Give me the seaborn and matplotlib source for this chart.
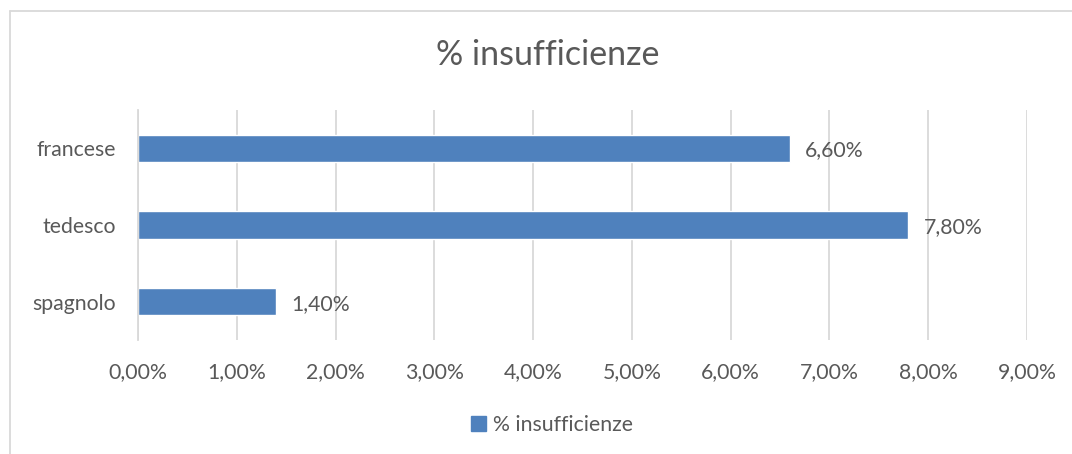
import matplotlib
matplotlib.use("Agg")
import matplotlib.pyplot as plt
from matplotlib.lines import Line2D
from matplotlib.patches import Rectangle
from matplotlib.ticker import FuncFormatter
import seaborn as sns
import pandas as pd

categories = ["francese", "tedesco", "spagnolo"]
values = [6.6, 7.8, 1.4]
series_name = "% insufficienze"
title = "% insufficienze"
xticks = [0, 1, 2, 3, 4, 5, 6, 7, 8, 9]

sns.set_theme(style="white")
plt.rcParams["font.family"] = ["Lato", "DejaVu Sans"]

TEXT = "#595959"
GRID = "#D9D9D9"
BAR = "#4F81BD"
FS = 15.3

df = pd.DataFrame({"cat": categories, "val": values, "serie": series_name})

fig = plt.figure(figsize=(10.72, 4.54), dpi=100)
W, H = 1072, 454
ax = fig.add_axes([138 / W, 1 - 340 / H, (1027 - 138) / W, 230 / H])

sns.barplot(data=df, x="val", y="cat", hue="serie", orient="h", ax=ax,
            palette=[BAR], width=0.36, legend=False, saturation=1)

ax.set_xlim(0, 9)
ax.set_xticks(xticks)
ax.xaxis.set_major_formatter(FuncFormatter(lambda v, p: f"{v:.2f}".replace(".", ",") + "%"))
ax.grid(axis="x", color=GRID, linewidth=1.3)
ax.set_axisbelow(True)
for s in ["top", "right", "bottom"]:
    ax.spines[s].set_visible(False)
ax.spines["left"].set_color(GRID)
ax.spines["left"].set_linewidth(1.3)
ax.tick_params(axis="both", length=0, colors=TEXT, labelsize=FS)
ax.tick_params(axis="x", pad=16)
ax.tick_params(axis="y", pad=16)
ax.set_xlabel("")
ax.set_ylabel("")

labels = [f"{v:.2f}".replace(".", ",") + "%" for v in values]
texts = ax.bar_label(ax.containers[0], labels=labels, padding=11, color=TEXT, fontsize=FS)
for t in texts:
    t.xyann = (t.xyann[0], -1.5)

fig.text(548 / W, 1 - 55 / H, title, ha="center", va="center", color=TEXT, fontsize=24.5)

handle = Rectangle((0, 0), 1, 1, color=BAR)
fig.legend([handle], [series_name], loc="center", bbox_to_anchor=(552 / W, 1 - 425 / H),
           frameon=False, fontsize=FS, labelcolor=TEXT, handlelength=0.7,
           handleheight=0.7, handletextpad=0.3)

fig.add_artist(Line2D([10 / W, 10 / W], [1 - 11 / H, 0], transform=fig.transFigure,
                      color=GRID, linewidth=1.3))
fig.add_artist(Line2D([10 / W, 1], [1 - 11 / H, 1 - 11 / H], transform=fig.transFigure,
                      color=GRID, linewidth=1.3))

fig.savefig("out.png", dpi=100, facecolor="white")
